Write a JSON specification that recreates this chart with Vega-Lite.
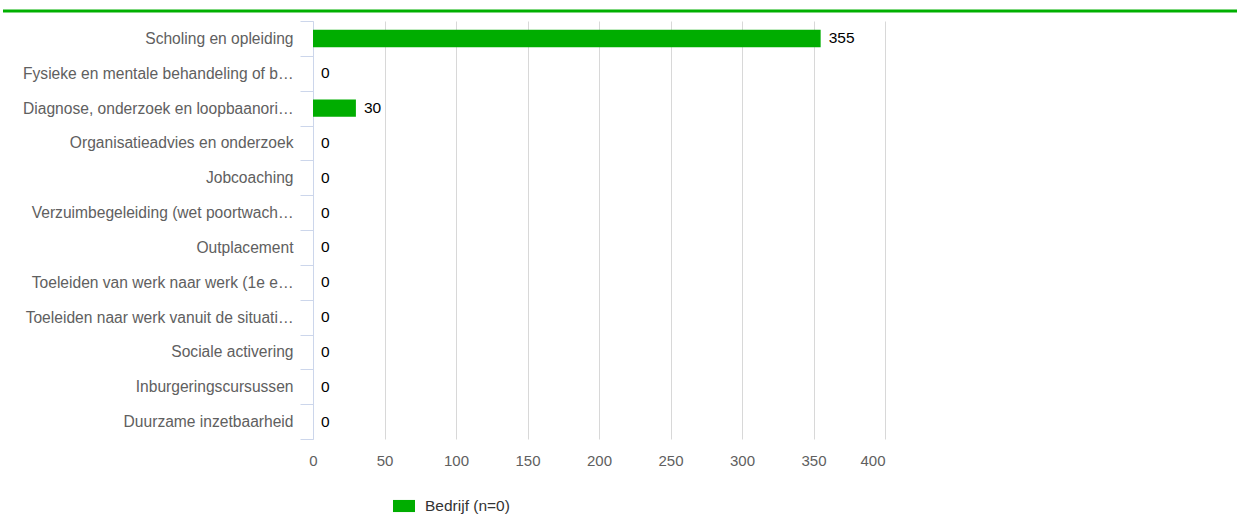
{
  "$schema": "https://vega.github.io/schema/vega-lite/v6.json",
  "width": 572,
  "height": 418,
  "autosize": {"type": "none"},
  "padding": {"left": 313, "top": 21, "right": 352, "bottom": 89},
  "background": "white",
  "config": {
    "font": "Liberation Sans",
    "view": {"stroke": null}
  },
  "data": {
    "values": [
      {"category": "Scholing en opleiding", "value": 355, "series": "Bedrijf (n=0)"},
      {"category": "Fysieke en mentale behandeling of b…", "value": 0, "series": "Bedrijf (n=0)"},
      {"category": "Diagnose, onderzoek en loopbaanori…", "value": 30, "series": "Bedrijf (n=0)"},
      {"category": "Organisatieadvies en onderzoek", "value": 0, "series": "Bedrijf (n=0)"},
      {"category": "Jobcoaching", "value": 0, "series": "Bedrijf (n=0)"},
      {"category": "Verzuimbegeleiding (wet poortwach…", "value": 0, "series": "Bedrijf (n=0)"},
      {"category": "Outplacement", "value": 0, "series": "Bedrijf (n=0)"},
      {"category": "Toeleiden van werk naar werk (1e e…", "value": 0, "series": "Bedrijf (n=0)"},
      {"category": "Toeleiden naar werk vanuit de situati…", "value": 0, "series": "Bedrijf (n=0)"},
      {"category": "Sociale activering", "value": 0, "series": "Bedrijf (n=0)"},
      {"category": "Inburgeringscursussen", "value": 0, "series": "Bedrijf (n=0)"},
      {"category": "Duurzame inzetbaarheid", "value": 0, "series": "Bedrijf (n=0)"}
    ]
  },
  "encoding": {
    "y": {
      "field": "category",
      "type": "nominal",
      "sort": null,
      "scale": {"paddingInner": 0, "paddingOuter": 0},
      "axis": {
        "title": null,
        "domainColor": "#ccd6eb",
        "tickColor": "#ccd6eb",
        "tickSize": 13,
        "tickBand": "extent",
        "labelPadding": 7,
        "labelFontSize": 15.6,
        "labelColor": "#606060",
        "labelLimit": 0
      }
    },
    "x": {
      "field": "value",
      "type": "quantitative",
      "scale": {"domain": [0, 400], "nice": false},
      "axis": {
        "title": null,
        "values": [0, 50, 100, 150, 200, 250, 300, 350, 400],
        "domain": false,
        "ticks": false,
        "labelPadding": 14,
        "labelFontSize": 15,
        "labelColor": "#606060",
        "gridColor": "#d8d8d8",
        "labelFlush": false,
        "labelAlign": {"condition": {"test": "datum.value === 400", "value": "right"}, "value": "center"}
      }
    }
  },
  "layer": [
    {
      "mark": {"type": "bar", "height": {"band": 0.5}},
      "encoding": {
        "fill": {
          "field": "series",
          "type": "nominal",
          "scale": {"range": ["#00ad00"]},
          "legend": {
            "title": null,
            "orient": "none",
            "legendX": 80,
            "legendY": 474,
            "padding": 0,
            "symbolType": "M-1,-0.55H1V0.55H-1Z",
            "symbolSize": 484,
            "symbolStrokeWidth": 0,
            "labelFontSize": 15.5,
            "labelColor": "#333333",
            "labelOffset": 10
          }
        }
      }
    },
    {
      "mark": {"type": "text", "align": "left", "baseline": "middle", "dx": 8, "fontSize": 15.5, "color": "#000000"},
      "encoding": {
        "text": {"field": "value", "type": "quantitative"}
      }
    },
    {
      "data": {"values": [{}]},
      "mark": {"type": "rule", "color": "#00b000", "strokeWidth": 3},
      "encoding": {
        "x": {"value": -310},
        "x2": {"value": 924},
        "y": {"value": -10}
      }
    }
  ]
}
